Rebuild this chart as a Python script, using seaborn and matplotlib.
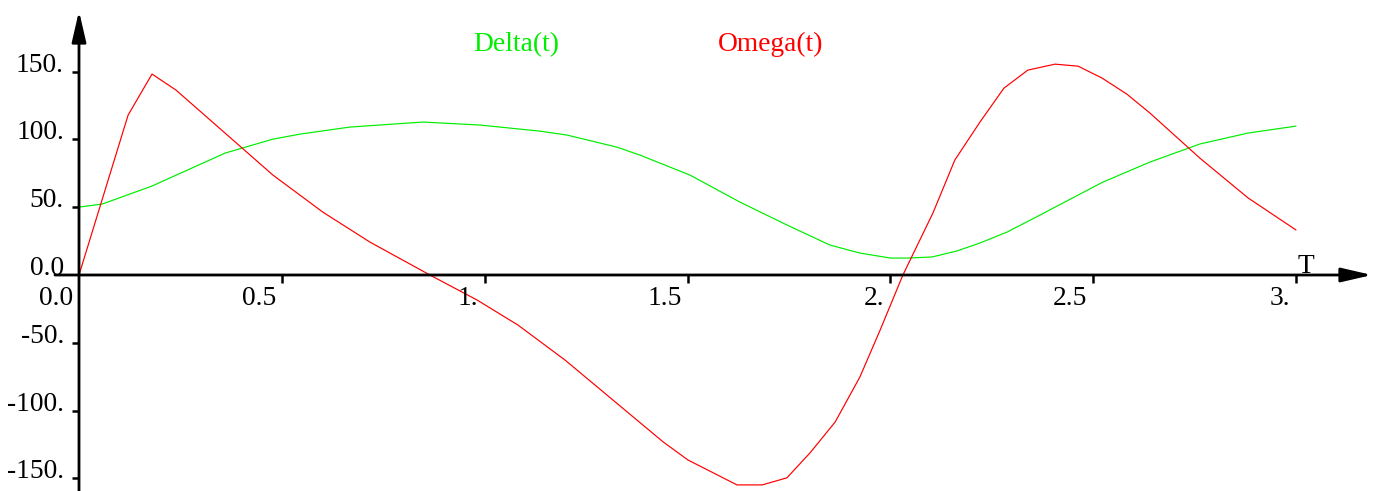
import numpy as np
import pandas as pd
import matplotlib
matplotlib.use('Agg')
import matplotlib.pyplot as plt
import seaborn as sns

# Delta(t) vertices
delta_t = [0.0, 0.057, 0.180, 0.360, 0.478, 0.545, 0.668, 0.848, 0.988, 1.136, 1.203,
           1.326, 1.383, 1.506, 1.629, 1.745, 1.851, 1.925, 2.000, 2.044, 2.103,
           2.164, 2.221, 2.288, 2.369, 2.463, 2.524, 2.640, 2.763, 2.882, 3.0]
delta_v = [50.1, 52.3, 65.6, 89.9, 100.2, 103.9, 109.1, 112.8, 110.6, 106.1, 103.2,
           94.3, 88.4, 73.7, 53.8, 36.9, 22.1, 16.2, 12.5, 12.5, 13.3,
           17.7, 23.6, 31.7, 44.2, 59.0, 68.5, 83.3, 96.6, 104.7, 109.8]

# Omega(t) vertices
omega_t = [0.0, 0.121, 0.180, 0.239, 0.478, 0.601, 0.717, 0.865, 0.981, 1.082, 1.198,
           1.440, 1.501, 1.622, 1.684, 1.745, 1.802, 1.864, 1.925, 1.975, 2.031,
           2.105, 2.159, 2.221, 2.280, 2.339, 2.406, 2.463, 2.522, 2.583, 2.640,
           2.763, 2.882, 3.0]
omega_v = [0.0, 117.9, 148.2, 136.4, 73.7, 46.4, 24.3, 0.0, -18.4, -36.9, -62.7,
           -123.1, -136.4, -154.8, -154.8, -149.6, -131.2, -108.4, -75.2, -40.5, 0.0,
           45.7, 84.8, 112.8, 137.8, 151.1, 155.5, 154.0, 145.2, 133.4, 119.4,
           86.2, 56.8, 33.2]

x_ticks = [0.0, 0.5, 1.0, 1.5, 2.0, 2.5, 3.0]
x_labels = ['0.0', '0.5', '1.', '1.5', '2.', '2.5', '3.']
y_ticks = [150, 100, 50, 0, -50, -100, -150]
y_labels = ['150.', '100.', '50.', '0.0', '-50.', '-100.', '-150.']

series_names = ['Delta(t)', 'Omega(t)']
series_colors = {'Delta(t)': '#00ee00', 'Omega(t)': '#ff0000'}

df = pd.concat([
    pd.DataFrame({'t': delta_t, 'value': delta_v, 'series': 'Delta(t)'}),
    pd.DataFrame({'t': omega_t, 'value': omega_v, 'series': 'Omega(t)'}),
], ignore_index=True)

sns.set_style('white')
plt.rcParams['font.family'] = ['Liberation Serif', 'DejaVu Serif']

W, H, DPI = 1382, 491, 72
fig = plt.figure(figsize=(W / DPI, H / DPI), dpi=DPI)
ax = fig.add_axes([0, 0, 1, 1])

# pixel layout of the original: origin at (79, 275), x=3 at 1296, y=150 at 71.6
ox, oy = 79, 275
sx = (1296 - ox) / 3.0
sy = (oy - 71.6) / 150.0
ax.set_xlim(-ox / sx, (W - ox) / sx)
ax.set_ylim(-(H - oy) / sy, oy / sy)

sns.lineplot(data=df, x='t', y='value', hue='series', palette=series_colors,
             estimator=None, sort=False, legend=False, linewidth=1.2, ax=ax)
ax.axis('off')

# axes with arrows
arrow = dict(arrowstyle='-|>,head_length=26,head_width=6', mutation_scale=1,
             lw=2.8, color='black', shrinkA=0, shrinkB=0)
ax.annotate('', xy=((1372 - ox) / sx, 0), xytext=((55 - ox) / sx, 0), arrowprops=arrow)
ax.annotate('', xy=(0, (oy - 11) / sy), xytext=(0, -(H - oy) / sy), arrowprops=arrow)

# tick marks
for t in x_ticks[1:]:
    ax.plot([t, t], [0, -8 / sy], color='black', lw=2.5, solid_capstyle='butt')
for v in y_ticks:
    if v != 0:
        ax.plot([-7 / sx, 0], [v, v], color='black', lw=2.5, solid_capstyle='butt')

# tick labels
fs = 27.5
for t, lab in zip(x_ticks, x_labels):
    ax.annotate(lab, xy=(t, 0), xytext=(-6, -30), textcoords='offset points',
                ha='right', va='baseline', fontsize=fs, color='black')
for v, lab in zip(y_ticks, y_labels):
    ax.annotate(lab, xy=(0, v), xytext=(-15, 0), textcoords='offset points',
                ha='right', va='baseline', fontsize=fs, color='black')

# series names and axis name
ax.text((473 - ox) / sx, (oy - 51) / sy, series_names[0], color=series_colors['Delta(t)'],
        fontsize=fs, ha='left', va='baseline')
ax.text((718 - ox) / sx, (oy - 51) / sy, series_names[1], color=series_colors['Omega(t)'],
        fontsize=fs, ha='left', va='baseline')
ax.annotate('T', xy=(3.0, 0), xytext=(2, 2), textcoords='offset points',
            ha='left', va='baseline', fontsize=fs, color='black')

fig.savefig('out.png', dpi=DPI)
